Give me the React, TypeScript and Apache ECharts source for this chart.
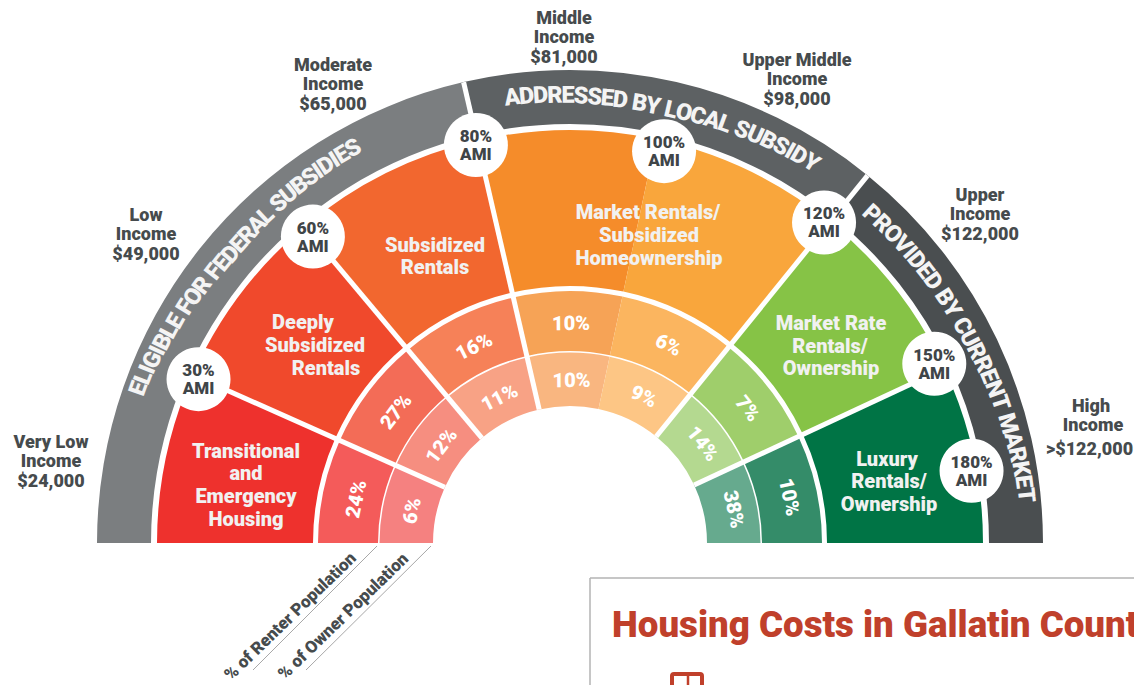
import React, { useEffect, useRef } from "react";
import * as echarts from "echarts";

const FONT = "Roboto";
const CX = 570;
const CY = 543;

// Angular span (degrees of the half circle) of each AMI segment
const segmentNames = ["Transitional", "Deeply Subsidized", "Subsidized", "Market A", "Market B", "Market Rate", "Luxury"];
const segmentSpans = [24, 26, 27, 25, 27, 26, 25];
const segmentColors = ["#EE312D", "#F0492C", "#F2672F", "#F58C2A", "#F9A63C", "#86C346", "#007445"];
const renterPct = ["24%", "27%", "16%", "10%", "6%", "7%", "10%"];
const renterColors = ["#F45B5A", "#F36C57", "#F68158", "#F6A356", "#FBB55F", "#9FCE6B", "#348C69"];
const ownerPct = ["6%", "12%", "11%", "10%", "9%", "14%", "38%"];
const ownerColors = ["#F58180", "#F68E80", "#F8A285", "#F9B680", "#FDC685", "#B4D990", "#66AA8E"];

const bandNames = ["ELIGIBLE FOR FEDERAL SUBSIDIES", "ADDRESSED BY LOCAL SUBSIDY", "PROVIDED BY CURRENT MARKET"];
const bandSpans = [77, 52, 51];
const bandColors = ["#7B7E80", "#5D6163", "#4A4E50"];

const amiLabels = ["30%", "60%", "80%", "100%", "120%", "150%", "180%"];
const amiRadius = [406, 400, 409, 403, 409, 406, 408];
const amiAngle = [23.8, 50, 76.7, 103.5, 128.4, 153.8, 169.8];

const spokeAngles = [24, 50, 77, 129, 155];
const bandSpokeAngles = [77, 129];

const incomeLabels = [
  ["Very Low", "Income", "$24,000"],
  ["Low", "Income", "$49,000"],
  ["Moderate", "Income", "$65,000"],
  ["Middle", "Income", "$81,000"],
  ["Upper Middle", "Income", "$98,000"],
  ["Upper", "Income", "$122,000"],
];
const incomeLayout = [
  [51, 441],
  [146, 214],
  [333, 64],
  [564, 17],
  [797, 59],
  [980, 194],
];

const segmentLabels = [
  ["Transitional", "and", "Emergency", "Housing"],
  ["Deeply", "Subsidized", "Rentals"],
  ["Subsidized", "Rentals"],
  ["Market Rentals/", "Subsidized", "Homeownership"],
  ["Market Rate", "Rentals/", "Ownership"],
  ["Luxury", "Rentals/", "Ownership"],
];
const segmentLabelLayout = [
  [[246, 451], [246, 473], [246, 496], [246, 519]],
  [[303, 322], [315, 345], [326, 368]],
  [[435, 245], [435, 267]],
  [[648, 212], [649, 235], [649, 258]],
  [[831, 323], [830, 346], [831, 368]],
  [[887, 459], [889, 481], [889, 504]],
];

const curvedLayout = [
  { a0: 19.7, a1: 61.2, r: [459, 446, 451], size: 23.5 },
  { a0: 82.6, a1: 122.4, r: [450, 445, 451], size: 23.5 },
  { a0: 132.5, a1: 174, r: [447, 449, 459], size: 23.5 },
];

function curvedText(text: string, l: { a0: number; a1: number; r: number[]; size: number }) {
  const font = `900 ${l.size}px ${FONT}`;
  const ctx = document.createElement("canvas").getContext("2d")!;
  ctx.font = font;
  const widths = [...text].map((c) => ctx.measureText(c).width);
  const total = widths.reduce((a, b) => a + b, 0) - widths[0] / 2 - widths[widths.length - 1] / 2;
  const out: any[] = [];
  let acc = 0;
  [...text].forEach((c, i) => {
    if (i > 0) acc += (widths[i - 1] + widths[i]) / 2;
    const t = acc / total;
    const a = l.a0 + (l.a1 - l.a0) * t;
    const r = t < 0.5 ? l.r[0] + (l.r[1] - l.r[0]) * t * 2 : l.r[1] + (l.r[2] - l.r[1]) * (t - 0.5) * 2;
    const rad = (a * Math.PI) / 180;
    if (c !== " ")
      out.push({
        type: "text",
        z: 100,
        x: CX - r * Math.cos(rad),
        y: CY - r * Math.sin(rad),
        rotation: ((90 - a) * Math.PI) / 180,
        silent: true,
        style: { text: c, font, fill: "#F4F4F4", align: "center", verticalAlign: "middle" },
      });
  });
  return out;
}

function centered(text: string, x: number, y: number, size: number, fill: string, align = "center") {
  return {
    type: "text",
    z: 100,
    x,
    y,
    silent: true,
    style: { text, font: `900 ${size}px ${FONT}`, fill, align, verticalAlign: "middle" },
  };
}

function ringData(labels: string[] | null, colors: string[] | null) {
  return segmentSpans.map((v, i) => ({
    value: v,
    name: segmentNames[i],
    itemStyle: { color: colors ? colors[i] : "rgba(0,0,0,0)" },
    label: labels ? { formatter: labels[i] } : undefined,
  }));
}

export default function App() {
  const ref = useRef<HTMLDivElement>(null);
  useEffect(() => {
    document.body.style.margin = "0";
    const chart = echarts.init(ref.current!, null, { renderer: "svg" });
    const pieBase = {
      type: "pie",
      center: [CX, CY],
      startAngle: 180,
      endAngle: 0,
      clockwise: true,
      silent: true,
      animation: false,
      labelLine: { show: false },
      emphasis: { disabled: true },
    };
    const pctLabel = {
      show: true,
      position: "inside",
      rotate: "tangential",
      color: "#FFFFFF",
      fontFamily: FONT,
      fontWeight: 900,
      fontSize: 20,
    };
    const graphics: any[] = [];
    bandNames.forEach((t, i) => graphics.push(...curvedText(t, curvedLayout[i])));
    incomeLabels.forEach((lines, i) => {
      const [x, y] = incomeLayout[i];
      lines.forEach((t, j) => graphics.push(centered(t, x, y + j * 19.5, 18, "#464B4D")));
    });
    graphics.push(centered("High", 1091, 405, 18, "#464B4D"));
    graphics.push(centered("Income", 1093, 424, 18, "#464B4D"));
    graphics.push(centered(">$122,000", 1046, 448, 18, "#464B4D", "left"));
    segmentLabels.forEach((lines, i) => {
      lines.forEach((t, j) => {
        const [x, y] = segmentLabelLayout[i][j];
        graphics.push(centered(t, x, y, 20, "#F1F1F1"));
      });
    });
    const leader = (x1: number, y1: number, x2: number, y2: number, color: string, w = 1) => ({
      type: "line",
      z: 100,
      silent: true,
      shape: { x1, y1, x2, y2 },
      style: { stroke: color, lineWidth: w },
    });
    graphics.push(leader(377, 546, 253, 670, "#A8A8A8"));
    graphics.push(leader(431, 546, 306, 670, "#A8A8A8"));
    graphics.push({ ...centered("% of Renter Population", 290, 616, 17, "#464B4D"), rotation: (44 * Math.PI) / 180 });
    graphics.push({ ...centered("% of Owner Population", 343, 616, 17, "#464B4D"), rotation: (44 * Math.PI) / 180 });
    graphics.push(leader(590, 578, 1134, 578, "#B3B3B3", 1.5));
    graphics.push(leader(590, 578, 590, 685, "#B3B3B3", 1.5));
    graphics.push({
      type: "text",
      z: 100,
      x: 612,
      y: 624,
      silent: true,
      style: {
        text: "Housing Costs in Gallatin Count",
        font: `900 36.7px ${FONT}`,
        fill: "#C0402B",
        align: "left",
        verticalAlign: "middle",
      },
    });
    graphics.push({
      type: "rect",
      z: 100,
      silent: true,
      shape: { x: 672, y: 674, width: 30, height: 20, r: 2 },
      style: { stroke: "#C0402B", fill: "none", lineWidth: 4 },
    });
    graphics.push(leader(688, 674, 688, 685, "#C0402B", 2.5));

    const spokes = (angles: number[], r0: number, r1: number) =>
      angles.map((a) => ({
        type: "line",
        coordinateSystem: "polar",
        silent: true,
        symbol: "none",
        z: 5,
        lineStyle: { color: "#FFFFFF", width: 5, cap: "butt" },
        data: [
          [r0, a],
          [r1, a],
        ],
      }));

    chart.setOption({
      animation: false,
      backgroundColor: "#FFFFFF",
      polar: { center: [CX, CY], radius: 473 },
      radiusAxis: { type: "value", min: 0, max: 473, show: false },
      angleAxis: { type: "value", min: 0, max: 360, startAngle: 180, clockwise: true, show: false },
      series: [
        {
          ...pieBase,
          radius: [419, 473],
          z: 1,
          label: { show: false },
          data: bandNames.map((n, i) => ({ name: n, value: bandSpans[i], itemStyle: { color: bandColors[i] } })),
        },
        { ...pieBase, radius: [257, 413], z: 1, label: { show: false }, data: ringData(null, segmentColors) },
        { ...pieBase, radius: [192, 252], z: 1, label: { show: false }, data: ringData(null, renterColors) },
        { ...pieBase, radius: [137, 190.5], z: 1, label: { show: false }, data: ringData(null, ownerColors) },
        ...spokes(spokeAngles, 137, 419),
        ...spokes(bandSpokeAngles, 413, 473),
        // label-only rings, so the percentages sit where the reference has them
        { ...pieBase, center: [CX + 3, CY + 2], radius: [189, 249], z: 8, label: pctLabel, data: ringData(renterPct, null) },
        { ...pieBase, center: [CX + 3, CY + 2], radius: [135, 189], z: 8, label: pctLabel, data: ringData(ownerPct, null) },
        {
          type: "scatter",
          coordinateSystem: "polar",
          silent: true,
          z: 10,
          symbol: "circle",
          symbolSize: 64,
          itemStyle: { color: "#FFFFFF", opacity: 1 },
          label: {
            show: true,
            position: "inside",
            formatter: (p: any) => `${amiLabels[p.dataIndex]}\nAMI`,
            color: "#3F4548",
            fontFamily: FONT,
            fontWeight: 900,
            fontSize: 17,
            lineHeight: 18,
          },
          data: amiRadius.map((r, i) => [r, amiAngle[i]]),
        },
      ],
      graphic: { elements: graphics },
    });
    return () => chart.dispose();
  }, []);
  return <div ref={ref} style={{ width: 1134, height: 685 }} />;
}
